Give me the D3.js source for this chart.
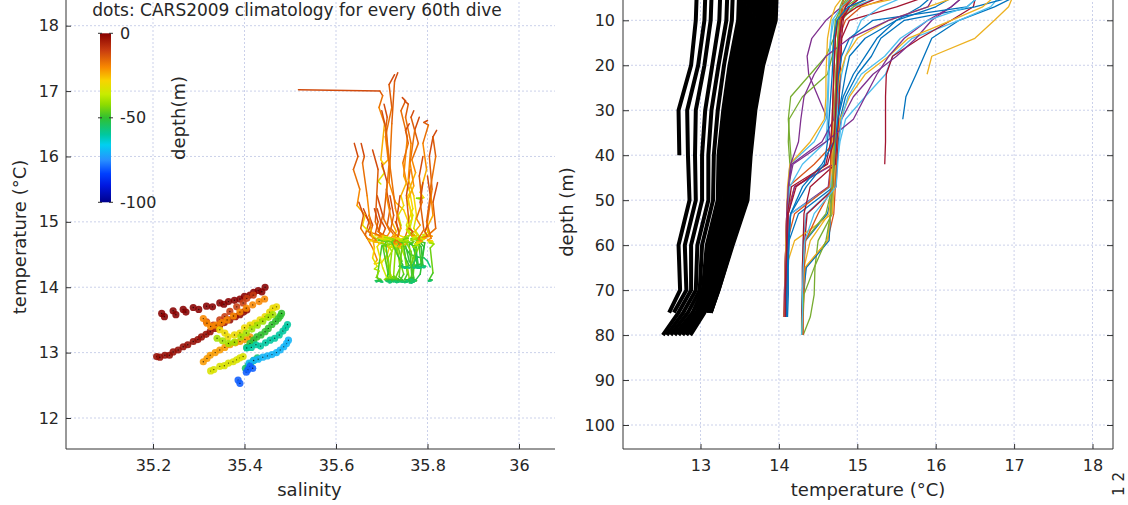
<!DOCTYPE html>
<html><head><meta charset="utf-8">
<script src="https://cdn.jsdelivr.net/npm/d3@7"></script>
<style>
body{margin:0;background:#fff}
text{font-family:"DejaVu Sans",sans-serif;fill:#262626}
</style>
</head><body><svg id="c" width="1128" height="505"></svg>
<script>
// ---------- DATA ----------
const xTicksL = [35.2, 35.4, 35.6, 35.8, 36];
const yTicksL = [12, 13, 14, 15, 16, 17, 18];
const xTicksR = [13, 14, 15, 16, 17, 18];
const yTicksR = [10, 20, 30, 40, 50, 60, 70, 80, 90, 100];
const cbTicks = [0, -50, -100];

// glider dives: common depth levels (m), temperature and salinity per dive
const diveDepths = [1, 4, 7, 10, 14, 18, 22, 27, 32, 37, 42, 47, 53, 59, 65, 71, 76, 80];
const diveTemps = [
 [17.25,17.10,16.75,16.30,15.95,15.85,15.75,15.62,15.58],
 [15.90,15.60,15.05,14.85,14.76,14.74,14.73,14.72,14.71,14.70,14.68,14.20,14.10,14.09,14.08,14.08,14.07],
 [17.02,17.00,16.93,16.75,16.50,15.95,15.89],
 [15.20,15.00,14.80,14.60,14.42,14.36,14.38,14.50,14.62,14.66,14.66,14.63,14.15,14.11,14.10,14.09,14.08],
 [15.40,15.10,14.85,14.75,14.70,14.60,14.40,14.15,14.12,14.14,14.16,14.13,14.11,14.10,14.10,14.09,14.09],
 [16.90,16.85,16.70,16.30,15.70,15.45,15.36,15.10,14.85,14.78,14.74,14.72,14.35,14.31,14.30,14.30,14.29,14.29],
 [16.55,16.52,16.48,16.20,15.80,15.45,15.37,15.36,15.36,15.36,15.35],
 [17.28,17.15,16.50,15.60,15.30,15.18,15.00,14.85,14.78,14.76,14.74,14.70,14.62,14.34,14.31,14.30,14.30,14.30],
 [15.60,15.30,14.90,14.80,14.78,14.77,14.76,14.75,14.74,14.72,14.45,14.12,14.10,14.09,14.08,14.07,14.06],
 [16.10,15.80,15.00,14.74,14.72,14.71,14.70,14.70,14.69,14.68,14.67,14.66,14.64,14.40,14.32,14.31,14.30,14.30],
 [16.60,16.40,16.20,15.95,15.75,15.50,15.20,14.95,14.80,14.72,14.70,14.20,14.12,14.11,14.10,14.09,14.09],
 [15.00,14.90,14.80,14.78,14.77,14.76,14.75,14.74,14.73,14.72,14.71,14.70,14.68,14.50,14.46,14.45,14.40,14.31],
 [15.80,15.40,14.95,14.70,14.66,14.65,14.64,14.63,14.62,14.60,14.30,14.14,14.12,14.11,14.10,14.10,14.09],
 [16.30,16.00,15.50,14.90,14.80,14.79,14.78,14.77,14.76,14.75,14.74,14.73,14.36,14.33,14.32,14.31,14.30,14.30],
 [16.20,16.00,15.80,15.50,15.25,15.10,14.95,14.82,14.75,14.73,14.72,14.70,14.25,14.13,14.11,14.10,14.10],
 [14.90,14.85,14.80,14.79,14.78,14.77,14.76,14.76,14.75,14.74,14.73,14.72,14.70,14.62,14.34,14.32,14.31,14.31],
 [16.85,16.80,16.60,16.20,15.65,15.40,15.10,14.90,14.78,14.74,14.72,14.70,14.68,14.20,14.09,14.08,14.08],
 [15.20,15.00,14.85,14.80,14.78,14.76,14.74,14.72,14.70,14.55,14.16,14.12,14.10,14.09,14.08,14.07,14.07],
 [15.50,15.20,14.95,14.80,14.75,14.74,14.73,14.72,14.71,14.70,14.69,14.68,14.60,14.33,14.31,14.30,14.29,14.29],
 [16.00,15.70,15.30,15.05,14.95,14.85,14.80,14.76,14.74,14.72,14.70,14.66,14.15,14.12,14.11,14.10,14.09],
 [15.10,14.95,14.85,14.82,14.80,14.79,14.78,14.77,14.76,14.74,14.72,14.40,14.32,14.31,14.30,14.30,14.29,14.29],
 [16.40,16.30,16.00,15.50,15.10,14.90,14.85,14.80,14.75,14.72,14.70,14.68,14.66,14.64,14.35,14.31,14.30,14.30],
 [15.30,15.10,14.90,14.75,14.72,14.71,14.70,14.69,14.68,14.67,14.66,14.64,14.20,14.11,14.10,14.09,14.08],
 [16.70,16.40,15.90,15.40,15.00,14.85,14.78,14.74,14.72,14.70,14.69,14.68,14.66,14.62,14.33,14.31,14.30,14.30],
 [16.50,16.40,16.20,15.90,15.60,15.40,15.25,15.10,14.95,14.60,14.18,14.12,14.10,14.09,14.08,14.08,14.07],
 [15.10,14.95,14.80,14.72,14.70,14.68,14.62,14.30,14.13,14.12,14.14,14.12,14.11,14.10,14.10,14.09,14.09],
 [15.40,15.00,14.80,14.68,14.66,14.64,14.63,14.62,14.60,14.45,14.14,14.12,14.11,14.10,14.09,14.09,14.08],
 [15.70,15.40,15.00,14.75,14.72,14.71,14.70,14.69,14.68,14.66,14.60,14.22,14.12,14.11,14.10,14.10,14.09],
 [16.80,16.60,16.40,15.20,14.90,14.80,14.76,14.74,14.72,14.70,14.55,14.30,14.15,14.12,14.11,14.10,14.10],
 [15.20,15.00,14.82,14.78,14.76,14.75,14.74,14.73,14.72,14.71,14.70,14.69,14.50,14.34,14.32,14.31,14.30,14.30],
 [15.00,14.85,14.72,14.66,14.62,14.61,14.60,14.60,14.58,14.40,14.14,14.11,14.10,14.09,14.08,14.08,14.07],
 [16.20,16.00,15.90,15.40,14.90,14.60,14.45,14.32,14.28,14.25,14.15,14.12,14.10,14.10,14.09,14.08,14.08],
 [14.95,14.85,14.78,14.76,14.75,14.74,14.73,14.72,14.72,14.71,14.70,14.68,14.66,14.60,14.45,14.32,14.30,14.29],
 [16.70,16.60,16.40,15.90,15.55,15.35,15.05,14.88,14.80,14.77,14.75,14.73,14.45,14.33,14.31,14.30,14.30,14.29],
 [15.40,15.10,14.90,14.80,14.77,14.75,14.74,14.73,14.72,14.70,14.62,14.16,14.11,14.10,14.09,14.08,14.08],
 [15.60,15.30,14.88,14.74,14.70,14.69,14.68,14.66,14.64,14.62,14.58,14.35,14.15,14.13,14.12,14.12,14.11]
];
const diveSals = [
 [35.728,35.716,35.722,35.708,35.714,35.700,35.706,35.692,35.698],
 [35.700,35.712,35.704,35.718,35.710,35.726,35.716,35.732,35.722,35.738,35.728,35.748,35.740,35.754,35.746,35.756,35.750],
 [35.518,35.696,35.702,35.694,35.706,35.698,35.704],
 [35.660,35.672,35.664,35.680,35.690,35.684,35.700,35.712,35.704,35.724,35.716,35.700,35.690,35.694,35.686,35.692,35.688],
 [35.690,35.702,35.694,35.708,35.700,35.716,35.708,35.722,35.716,35.730,35.724,35.736,35.728,35.742,35.734,35.740,35.736],
 [35.745,35.752,35.742,35.756,35.748,35.762,35.754,35.768,35.760,35.772,35.764,35.778,35.770,35.782,35.776,35.786,35.780,35.784],
 [35.800,35.792,35.802,35.790,35.798,35.784,35.792,35.780,35.788,35.776,35.784],
 [35.735,35.728,35.722,35.716,35.730,35.748,35.758,35.766,35.774,35.770,35.780,35.776,35.786,35.790,35.784,35.794,35.790,35.792],
 [35.822,35.812,35.818,35.802,35.810,35.796,35.788,35.794,35.780,35.786,35.772,35.768,35.776,35.764,35.770,35.760,35.766],
 [35.680,35.692,35.686,35.700,35.712,35.706,35.722,35.716,35.732,35.726,35.742,35.736,35.752,35.760,35.768,35.764,35.772,35.776],
 [35.782,35.772,35.780,35.766,35.774,35.760,35.768,35.754,35.762,35.750,35.746,35.756,35.750,35.760,35.754,35.762,35.758],
 [35.700,35.708,35.702,35.712,35.706,35.718,35.712,35.724,35.718,35.730,35.724,35.738,35.744,35.762,35.780,35.792,35.800,35.806],
 [35.762,35.754,35.760,35.748,35.756,35.742,35.750,35.738,35.746,35.734,35.740,35.730,35.738,35.726,35.734,35.722,35.728],
 [35.812,35.804,35.810,35.798,35.804,35.792,35.798,35.786,35.794,35.782,35.790,35.780,35.786,35.776,35.784,35.772,35.780,35.776],
 [35.640,35.648,35.638,35.652,35.646,35.664,35.658,35.676,35.686,35.698,35.692,35.708,35.716,35.710,35.722,35.716,35.726],
 [35.760,35.768,35.762,35.772,35.766,35.776,35.770,35.780,35.774,35.784,35.778,35.788,35.782,35.792,35.786,35.796,35.790,35.794],
 [35.750,35.758,35.752,35.764,35.758,35.770,35.776,35.770,35.782,35.776,35.788,35.782,35.794,35.784,35.772,35.766,35.762],
 [35.690,35.698,35.692,35.704,35.698,35.710,35.704,35.716,35.710,35.722,35.716,35.712,35.720,35.714,35.722,35.716,35.720],
 [35.710,35.718,35.712,35.726,35.720,35.734,35.728,35.744,35.738,35.754,35.748,35.764,35.770,35.778,35.774,35.782,35.778,35.784],
 [35.790,35.782,35.788,35.776,35.784,35.772,35.778,35.768,35.774,35.764,35.770,35.760,35.766,35.758,35.764,35.754,35.760],
 [35.665,35.676,35.670,35.684,35.692,35.686,35.704,35.712,35.706,35.724,35.732,35.744,35.738,35.752,35.746,35.756,35.750,35.754],
 [35.820,35.812,35.818,35.806,35.812,35.798,35.804,35.790,35.796,35.782,35.788,35.776,35.782,35.772,35.778,35.768,35.774,35.770],
 [35.650,35.660,35.654,35.668,35.678,35.672,35.690,35.684,35.700,35.694,35.708,35.702,35.714,35.708,35.716,35.710,35.714],
 [35.700,35.710,35.716,35.710,35.722,35.732,35.726,35.740,35.750,35.744,35.760,35.768,35.762,35.774,35.780,35.776,35.784,35.788],
 [35.760,35.752,35.758,35.746,35.754,35.742,35.748,35.736,35.742,35.730,35.726,35.734,35.728,35.736,35.730,35.738,35.732],
 [35.672,35.680,35.674,35.688,35.682,35.696,35.690,35.702,35.712,35.706,35.716,35.710,35.720,35.714,35.722,35.716,35.720],
 [35.740,35.732,35.738,35.726,35.734,35.722,35.730,35.718,35.726,35.714,35.720,35.728,35.722,35.730,35.724,35.732,35.726],
 [35.800,35.806,35.798,35.808,35.800,35.810,35.802,35.812,35.804,35.814,35.806,35.812,35.804,35.810,35.802,35.808,35.802],
 [35.705,35.712,35.708,35.730,35.742,35.736,35.750,35.744,35.758,35.752,35.764,35.770,35.764,35.772,35.766,35.774,35.768],
 [35.684,35.692,35.686,35.698,35.692,35.704,35.698,35.710,35.704,35.716,35.710,35.722,35.734,35.746,35.740,35.752,35.746,35.754],
 [35.730,35.738,35.732,35.742,35.736,35.746,35.740,35.750,35.744,35.754,35.760,35.766,35.760,35.768,35.762,35.770,35.764],
 [35.655,35.662,35.658,35.668,35.676,35.684,35.680,35.690,35.684,35.694,35.688,35.698,35.692,35.700,35.694,35.702,35.698],
 [35.800,35.794,35.800,35.790,35.796,35.786,35.792,35.782,35.788,35.778,35.784,35.774,35.780,35.770,35.776,35.766,35.772,35.768],
 [35.770,35.764,35.772,35.762,35.770,35.758,35.766,35.754,35.762,35.750,35.758,35.746,35.752,35.760,35.754,35.762,35.756,35.760],
 [35.718,35.726,35.720,35.732,35.726,35.738,35.732,35.744,35.738,35.750,35.744,35.738,35.746,35.740,35.748,35.742,35.746],
 [35.790,35.784,35.792,35.780,35.788,35.776,35.784,35.772,35.780,35.768,35.776,35.764,35.770,35.762,35.768,35.760,35.766]
];
const lineColors = ["#0072bd","#d95319","#edb120","#7e2f8e","#77ac30","#4dbeee","#a2142f"];

// CARS2009 climatology profiles (black lines): standard levels and temperatures
const climLevels = [0, 10, 20, 30, 40, 50, 60, 70, 75, 80];
const climTemps = [
 [12.96,12.94,12.88,12.72,12.73],
 [13.07,13.05,12.97,12.83,12.84,12.86,12.72,12.74,12.60],
 [13.15,13.13,13.05,12.94,12.93,12.94,12.80,12.82,12.66],
 [13.26,13.24,13.15,13.06,13.02,13.02,12.88,12.88,12.72,12.52],
 [13.35,13.33,13.23,13.14,13.10,13.10,12.96,12.94,12.78,12.57],
 [13.42,13.40,13.30,13.22,13.17,13.16,13.02,12.99,12.84,12.62],
 [13.50,13.48,13.37,13.29,13.23,13.22,13.08,13.03,12.90,12.67],
 [13.54,13.52,13.41,13.33,13.27,13.26,13.11,13.06,12.95,12.72],
 [13.58,13.56,13.45,13.37,13.31,13.30,13.15,13.08,12.99,12.77],
 [13.62,13.60,13.49,13.41,13.35,13.34,13.18,13.10,13.02,12.82],
 [13.66,13.64,13.52,13.45,13.39,13.38,13.21,13.12,13.05,12.87],
 [13.70,13.68,13.56,13.49,13.43,13.42,13.24,13.14,13.07],
 [13.74,13.72,13.60,13.53,13.47,13.45,13.27,13.16,13.09],
 [13.78,13.76,13.64,13.56,13.50,13.48,13.30,13.18,13.10],
 [13.82,13.80,13.67,13.59,13.53,13.51,13.33,13.20,13.11],
 [13.86,13.84,13.71,13.62,13.57,13.54,13.36,13.21,13.12],
 [13.90,13.88,13.74,13.65,13.60,13.57,13.38,13.22,13.13],
 [13.94,13.92,13.77,13.68,13.62,13.59,13.40,13.23,13.13],
 [13.98,13.96,13.80,13.70,13.64,13.60,13.41,13.23,13.13]
];

// climatology dots in T-S space, grouped by depth
const dotDepths = [0, 2, 10, 20, 22, 33, 30, 40, 50, 55, 60, 70, 80];
const dotSals = [
 [35.219,35.225,35.244,35.250,35.266,35.272,35.288,35.300,35.317,35.330,35.346,35.355,35.365,35.378,35.390,35.400,35.412,35.420,35.430,35.438,35.445],
 [35.208,35.215,35.226,35.236,35.244,35.255,35.266,35.276,35.288,35.298,35.306,35.316,35.325,35.336,35.346,35.356,35.368,35.380,35.390,35.398,35.405],
 [35.317,35.332,35.346,35.357,35.368,35.383,35.397,35.405,35.419],
 [35.310,35.318,35.326,35.338,35.350,35.362,35.376,35.390,35.404,35.418,35.432,35.444],
 [35.310,35.318,35.325,35.336,35.346,35.357,35.368,35.380,35.390,35.401,35.412],
 [35.326,35.333,35.346,35.356,35.365,35.375,35.383,35.390,35.397],
 [35.346,35.357,35.364,35.378,35.390,35.400,35.412,35.423,35.434,35.445,35.455,35.462,35.470],
 [35.340,35.352,35.365,35.378,35.392,35.404,35.416,35.428,35.440,35.452,35.462],
 [35.405,35.412,35.420,35.427,35.436,35.445,35.452,35.460,35.468,35.474,35.478,35.481],
 [35.402,35.408,35.414,35.420,35.428],
 [35.405,35.415,35.425,35.435,35.446,35.456,35.466,35.476,35.484,35.490,35.494],
 [35.410,35.420,35.430,35.440,35.450,35.460,35.470,35.478,35.486,35.492,35.496],
 [35.386,35.390,35.404,35.408,35.412,35.418]
];
const dotTemps = [
 [13.60,13.55,13.64,13.58,13.66,13.62,13.69,13.66,13.71,13.70,13.76,13.74,13.78,13.80,13.82,13.86,13.88,13.92,13.95,13.93,14.00],
 [12.94,12.93,12.96,12.96,13.01,13.04,13.09,13.12,13.17,13.20,13.24,13.28,13.32,13.37,13.42,13.46,13.50,13.55,13.58,13.62,13.65],
 [13.47,13.42,13.50,13.55,13.63,13.70,13.76,13.83,13.88],
 [13.52,13.45,13.40,13.42,13.46,13.50,13.56,13.62,13.68,13.73,13.78,13.82],
 [12.86,12.91,12.96,13.00,13.04,13.08,13.12,13.15,13.17,13.20,13.24],
 [12.72,12.74,12.79,12.80,12.84,12.86,12.89,12.92,12.94],
 [13.35,13.30,13.24,13.27,13.30,13.38,13.42,13.45,13.50,13.55,13.62,13.68,13.70],
 [13.22,13.18,13.14,13.16,13.24,13.30,13.36,13.42,13.48,13.54,13.58],
 [13.08,13.14,13.19,13.24,13.27,13.32,13.37,13.43,13.48,13.52,13.56,13.60],
 [12.76,12.80,12.84,12.88,12.92],
 [13.07,13.08,13.12,13.10,13.15,13.19,13.22,13.27,13.33,13.38,13.43],
 [12.84,12.88,12.90,12.93,12.95,12.97,13.00,13.04,13.09,13.14,13.19],
 [12.58,12.53,12.70,12.74,12.79,12.76]
];

// ---------- DRAWING ----------
const svg = d3.select('#c');
svg.append('rect').attr('width',1128).attr('height',505).attr('fill','#fff');

const depthColor = d3.scaleLinear()
  .domain([-100,-90,-83,-75,-66,-60,-50,-42,-36,-28,-20,-10,0])
  .range(['#00008c','#0018e0','#0040ff','#2890ff','#00d0f0','#00c8a0','#30c030','#90dc00','#c8ec00','#f8d400','#f88800','#c83c10','#880000'])
  .clamp(true);
// colour limits used for the glider T-S lines (depth -> colour-axis value)
const lineCLim = d3.scaleLinear().domain([0, 10, 20, 35, 50, 80]).range([-10, -18, -28, -40, -48, -58]);

const gridColor = '#cbd1ea', axisColor = '#333';

const L = {x0:66, x1:555, y0:-10, y1:449};
const xL = d3.scaleLinear().domain([35.2, 36]).range([153, 519]);
const yL = d3.scaleLinear().domain([12, 18]).range([418, 25.7]);
const R = {x0:623, x1:1113, y0:-10, y1:449};
const xR = d3.scaleLinear().domain([13, 18]).range([700.5, 1092.5]);
const yR = d3.scaleLinear().domain([10, 100]).range([20.3, 425]);

function grid(g, xs, ys, xt, yt, B){
  g.selectAll('.gx').data(xt).join('line')
    .attr('x1',d=>xs(d)).attr('x2',d=>xs(d)).attr('y1',B.y0).attr('y2',B.y1)
    .attr('stroke',gridColor).attr('stroke-dasharray','2,2');
  g.selectAll('.gy').data(yt).join('line')
    .attr('x1',B.x0).attr('x2',B.x1).attr('y1',d=>ys(d)).attr('y2',d=>ys(d))
    .attr('stroke',gridColor).attr('stroke-dasharray','2,2');
}
grid(svg.append('g'), xL, yL, xTicksL, yTicksL, L);
grid(svg.append('g'), xR, yR, xTicksR, yTicksR, R);

svg.append('clipPath').attr('id','clipR').append('rect')
  .attr('x',R.x0).attr('y',-60).attr('width',R.x1-R.x0).attr('height',R.y1+60);

// Right panel: climatology
const lineR = d3.line().x(d=>xR(d[0])).y(d=>yR(d[1]));
const pR = svg.append('g').attr('clip-path','url(#clipR)');
climTemps.forEach(t=>{
  const pts = t.map((v,i)=>[v, climLevels[i]]);
  pR.append('path').attr('d', lineR(pts)).attr('fill','none')
    .attr('stroke','#000').attr('stroke-width',4).attr('stroke-linejoin','round');
});
// Right panel: dives
diveTemps.forEach((t,k)=>{
  const pts = t.map((v,i)=>[v, diveDepths[i]]);
  pR.append('path').attr('d', lineR(pts)).attr('fill','none')
    .attr('stroke', lineColors[k % lineColors.length]).attr('stroke-width',1.3)
    .attr('stroke-linejoin','round');
});

// Left panel: T-S lines coloured by depth
const pL = svg.append('g');
diveTemps.forEach((t,k)=>{
  const s = diveSals[k];
  const n = Math.min(t.length, s.length);
  for(let i=0;i<n-1;i++){
    const dm = (diveDepths[i]+diveDepths[i+1])/2;
    pL.append('line')
      .attr('x1',xL(s[i])).attr('y1',yL(t[i]))
      .attr('x2',xL(s[i+1])).attr('y2',yL(t[i+1]))
      .attr('stroke',depthColor(lineCLim(dm))).attr('stroke-width',1.5)
      .attr('stroke-linecap','round');
  }
});
// Left panel: climatology dots
dotSals.forEach((row,r)=>{
  const c = depthColor(-dotDepths[r]);
  row.forEach((sv,i)=>{
    const cx = xL(sv), cy = yL(dotTemps[r][i]);
    pL.append('circle').attr('cx',cx).attr('cy',cy).attr('r',3.6).attr('fill',c).attr('opacity',0.88);
    pL.append('circle').attr('cx',cx).attr('cy',cy).attr('r',0.7).attr('fill','#000').attr('opacity',0.7);
  });
});

// Axes
const axL = svg.append('g');
axL.append('line').attr('x1',L.x0).attr('x2',L.x1).attr('y1',L.y1).attr('y2',L.y1).attr('stroke',axisColor);
axL.append('line').attr('x1',L.x0).attr('x2',L.x0).attr('y1',-5).attr('y2',L.y1).attr('stroke',axisColor);
const xAxisL = svg.append('g').attr('transform',`translate(0,${L.y1})`)
  .call(d3.axisBottom(xL).tickValues(xTicksL).tickFormat(d=>String(d)).tickSize(-5).tickPadding(11));
const yAxisL = svg.append('g').attr('transform',`translate(${L.x0},0)`)
  .call(d3.axisLeft(yL).tickValues(yTicksL).tickFormat(d=>String(d)).tickSize(-5).tickPadding(7));

const axR = svg.append('g');
axR.append('line').attr('x1',R.x0).attr('x2',R.x1).attr('y1',R.y1).attr('y2',R.y1).attr('stroke',axisColor);
axR.append('line').attr('x1',R.x0).attr('x2',R.x0).attr('y1',-5).attr('y2',R.y1).attr('stroke',axisColor);
axR.append('line').attr('x1',R.x1).attr('x2',R.x1).attr('y1',-5).attr('y2',R.y1).attr('stroke',axisColor);
const xAxisR = svg.append('g').attr('transform',`translate(0,${R.y1})`)
  .call(d3.axisBottom(xR).tickValues(xTicksR).tickFormat(d=>String(d)).tickSize(-5).tickPadding(11));
const yAxisR = svg.append('g').attr('transform',`translate(${R.x0},0)`)
  .call(d3.axisLeft(yR).tickValues(yTicksR).tickFormat(d=>String(d)).tickSize(-6).tickPadding(8));
const yAxisR2 = svg.append('g').attr('transform',`translate(${R.x1},0)`)
  .call(d3.axisRight(yR).tickValues(yTicksR).tickFormat('').tickSize(-6));

[xAxisL,yAxisL,xAxisR,yAxisR,yAxisR2].forEach(a=>{
  a.select('.domain').remove();
  a.selectAll('.tick line').attr('stroke',axisColor);
  a.selectAll('.tick text').attr('font-size',16).attr('font-family','"DejaVu Sans",sans-serif').attr('fill','#262626');
});

// Labels
function label(txt,x,y,rot,size){
  svg.append('text').attr('transform',`translate(${x},${y}) rotate(${rot})`)
    .attr('text-anchor','middle').attr('dy','0.35em').attr('font-size',size).text(txt);
}
label('salinity', 309.5, 490, 0, 18);
label('temperature (°C)', 20, 237, -90, 18);
label('temperature (°C)', 868, 490, 0, 18);
label('depth (m)', 567, 212, -90, 18);
label('depth(m)', 179, 118, -90, 18);
label('1 2', 1119, 484, -90, 15);
svg.append('text').attr('x',297).attr('y',15.5).attr('text-anchor','middle')
  .attr('font-size',17).text('dots: CARS2009 climatology for every 60th dive');

// Colorbar
const cb = {x:100, y0:33.3, y1:202.3, w:11};
const cbScale = d3.scaleLinear().domain([0,-100]).range([cb.y0, cb.y1]);
const grad = svg.append('defs').append('linearGradient').attr('id','jet')
  .attr('x1',0).attr('y1',0).attr('x2',0).attr('y2',1);
depthColor.domain().slice().reverse().forEach(v=>{
  grad.append('stop').attr('offset',(-v/100)).attr('stop-color',depthColor(v));
});
svg.append('rect').attr('x',cb.x).attr('y',cb.y0).attr('width',cb.w).attr('height',cb.y1-cb.y0).attr('fill','url(#jet)');
cbTicks.forEach(v=>{
  const y = cbScale(v);
  svg.append('line').attr('x1',cb.x-2).attr('x2',cb.x+2).attr('y1',y).attr('y2',y).attr('stroke',axisColor);
  svg.append('line').attr('x1',cb.x+cb.w-2).attr('x2',cb.x+cb.w+2).attr('y1',y).attr('y2',y).attr('stroke',axisColor);
  svg.append('text').attr('x',120).attr('y',y).attr('dy','0.35em').attr('font-size',16).text(String(v));
});
</script>
</body></html>
